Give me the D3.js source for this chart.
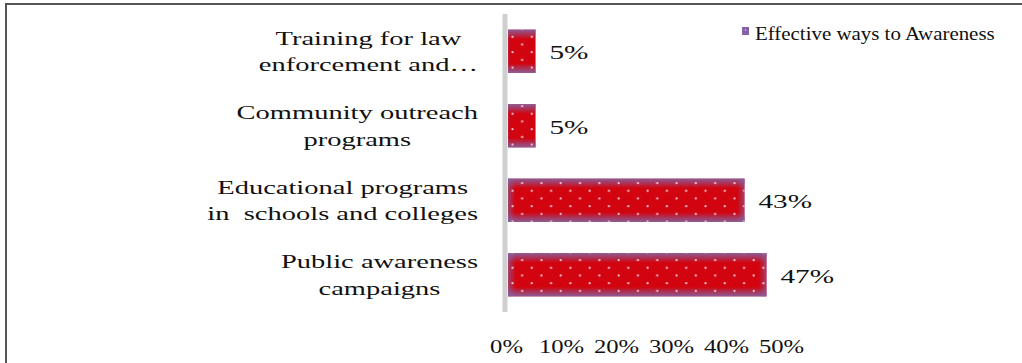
<!DOCTYPE html>
<html>
<head>
<meta charset="utf-8">
<script src="https://cdn.jsdelivr.net/npm/d3@7"></script>
<style>
  html, body { margin: 0; padding: 0; background: #fff; }
  svg { display: block; }
  svg text { white-space: pre; }
</style>
</head>
<body>
<svg id="chart" width="1022" height="363"></svg>
<script>
// Categories, bottom to top as in the chart; each label is split into its wrapped lines
const categories = [
  "Public awareness campaigns",
  "Educational programs in schools and colleges",
  "Community outreach programs",
  "Training for law enforcement and…"
];
const categoryLines = [
  ["Public awareness", "campaigns"],
  ["Educational programs", "in  schools and colleges"],
  ["Community outreach", "programs"],
  ["Training for law", "enforcement and…"]
];
const values = [47, 43, 5, 5];
const ticks = [0, 10, 20, 30, 40, 50];
const seriesName = "Effective ways to Awareness";

const SERIF = "Liberation Serif";
const INK = "#111";

const svg = d3.select("#chart");
const defs = svg.append("defs");

// Frame around the chart area
svg.append("rect")
  .attr("x", 6).attr("y", 4)
  .attr("width", 1030).attr("height", 380)
  .attr("fill", "none").attr("stroke", "#555").attr("stroke-width", 2);

const x = d3.scaleLinear().domain([0, 50]).range([508, 783]);
const y = d3.scaleBand()
  .domain(categories.slice().reverse())
  .range([14, 312])
  .paddingInner(0.42).paddingOuter(0.21);

// Fills: red core fading to violet edges, with a dotted overlay
const vGrad = defs.append("linearGradient").attr("id", "edgeV")
  .attr("x1", 0).attr("y1", 0).attr("x2", 0).attr("y2", 1);
[[0, 0.85], [0.22, 0], [0.78, 0], [1, 0.85]].forEach(([o, a]) =>
  vGrad.append("stop").attr("offset", o).attr("stop-color", "#7d6caf").attr("stop-opacity", a));

const hGrad = defs.append("linearGradient").attr("id", "edgeH")
  .attr("x1", 0).attr("y1", 0).attr("x2", 1).attr("y2", 0);
[[0, 0.6], [0.03, 0], [0.97, 0], [1, 0.6]].forEach(([o, a]) =>
  hGrad.append("stop").attr("offset", o).attr("stop-color", "#7d6caf").attr("stop-opacity", a));

const dots = defs.append("pattern").attr("id", "dots")
  .attr("patternUnits", "userSpaceOnUse")
  .attr("width", 19.3).attr("height", 15.4)
  .attr("x", 508).attr("y", 2);
dots.append("circle").attr("cx", 4.5).attr("cy", 4).attr("r", 1.1).attr("fill", "#f6d0dc");
dots.append("circle").attr("cx", 14.15).attr("cy", 11.7).attr("r", 1.1).attr("fill", "#f6d0dc");

const data = categories.map((c, i) => ({ c, v: values[i], lines: categoryLines[i] }));

const bars = svg.append("g");
["#d2040f", "url(#edgeV)", "url(#edgeH)", "url(#dots)"].forEach((fill, k) => {
  bars.selectAll("rect.layer" + k).data(data).join("rect")
    .attr("class", "layer" + k)
    .attr("x", x(0)).attr("y", d => y(d.c))
    .attr("width", d => x(d.v) - x(0)).attr("height", y.bandwidth())
    .attr("fill", fill);
});

// Vertical category axis line
svg.append("line")
  .attr("x1", x(0) - 3).attr("x2", x(0) - 3)
  .attr("y1", 14).attr("y2", 312)
  .attr("stroke", "#cfcfcf").attr("stroke-width", 5);

// Text in this chart is set in a widened serif face
const STRETCH = 1.5;

// Value labels
svg.append("g").selectAll("g").data(data).join("g")
  .attr("transform", d => `translate(${x(d.v) + 14},${y(d.c) + y.bandwidth() / 2 + 8}) scale(${STRETCH},1)`)
  .append("text")
  .attr("font-family", SERIF).attr("font-size", 19.5).attr("fill", INK)
  .text(d => d.v + "%");

// Category labels: wrapped lines centred on the block whose longest line ends at a fixed right edge
const labelRight = 478;
const labels = svg.append("g");
data.forEach(d => {
  const cy = y(d.c) + y.bandwidth() / 2;
  const lineH = 26.5;
  const g = labels.append("g");
  const t = g.selectAll("text").data(d.lines).join("text")
    .attr("font-family", SERIF).attr("font-size", 19).attr("fill", INK)
    .attr("text-anchor", "middle")
    .attr("y", (l, i) => cy + (i - (d.lines.length - 1) / 2) * lineH + 7)
    .text(l => l);
  let maxW = 0;
  t.each(function () { maxW = Math.max(maxW, this.getComputedTextLength()); });
  const cx = labelRight - maxW * STRETCH / 2;
  g.attr("transform", `translate(${cx},0) scale(${STRETCH},1)`);
});

// Horizontal value axis (labels only)
const xAxis = svg.append("g")
  .attr("transform", "translate(-2,353)")
  .call(d3.axisBottom(x).tickValues(ticks).tickFormat(v => v + "%").tickSize(0).tickPadding(0));
xAxis.select(".domain").remove();
xAxis.selectAll("text")
  .attr("font-family", SERIF)
  .attr("font-size", 19)
  .attr("fill", INK)
  .attr("y", 0).attr("dy", 0)
  .attr("transform", "scale(1.3,1)");

// Legend
const legend = svg.append("g").attr("transform", "translate(742,27)");
legend.append("rect").attr("width", 7).attr("height", 8).attr("fill", "#8462a6");
legend.append("circle").attr("cx", 3.5).attr("cy", 3).attr("r", 0.8).attr("fill", "#e8c8e0");
legend.append("g").attr("transform", "translate(13,13) scale(1.1,1)")
  .append("text")
  .attr("font-family", SERIF).attr("font-size", 19).attr("fill", INK)
  .text(seriesName);
</script>
</body>
</html>
